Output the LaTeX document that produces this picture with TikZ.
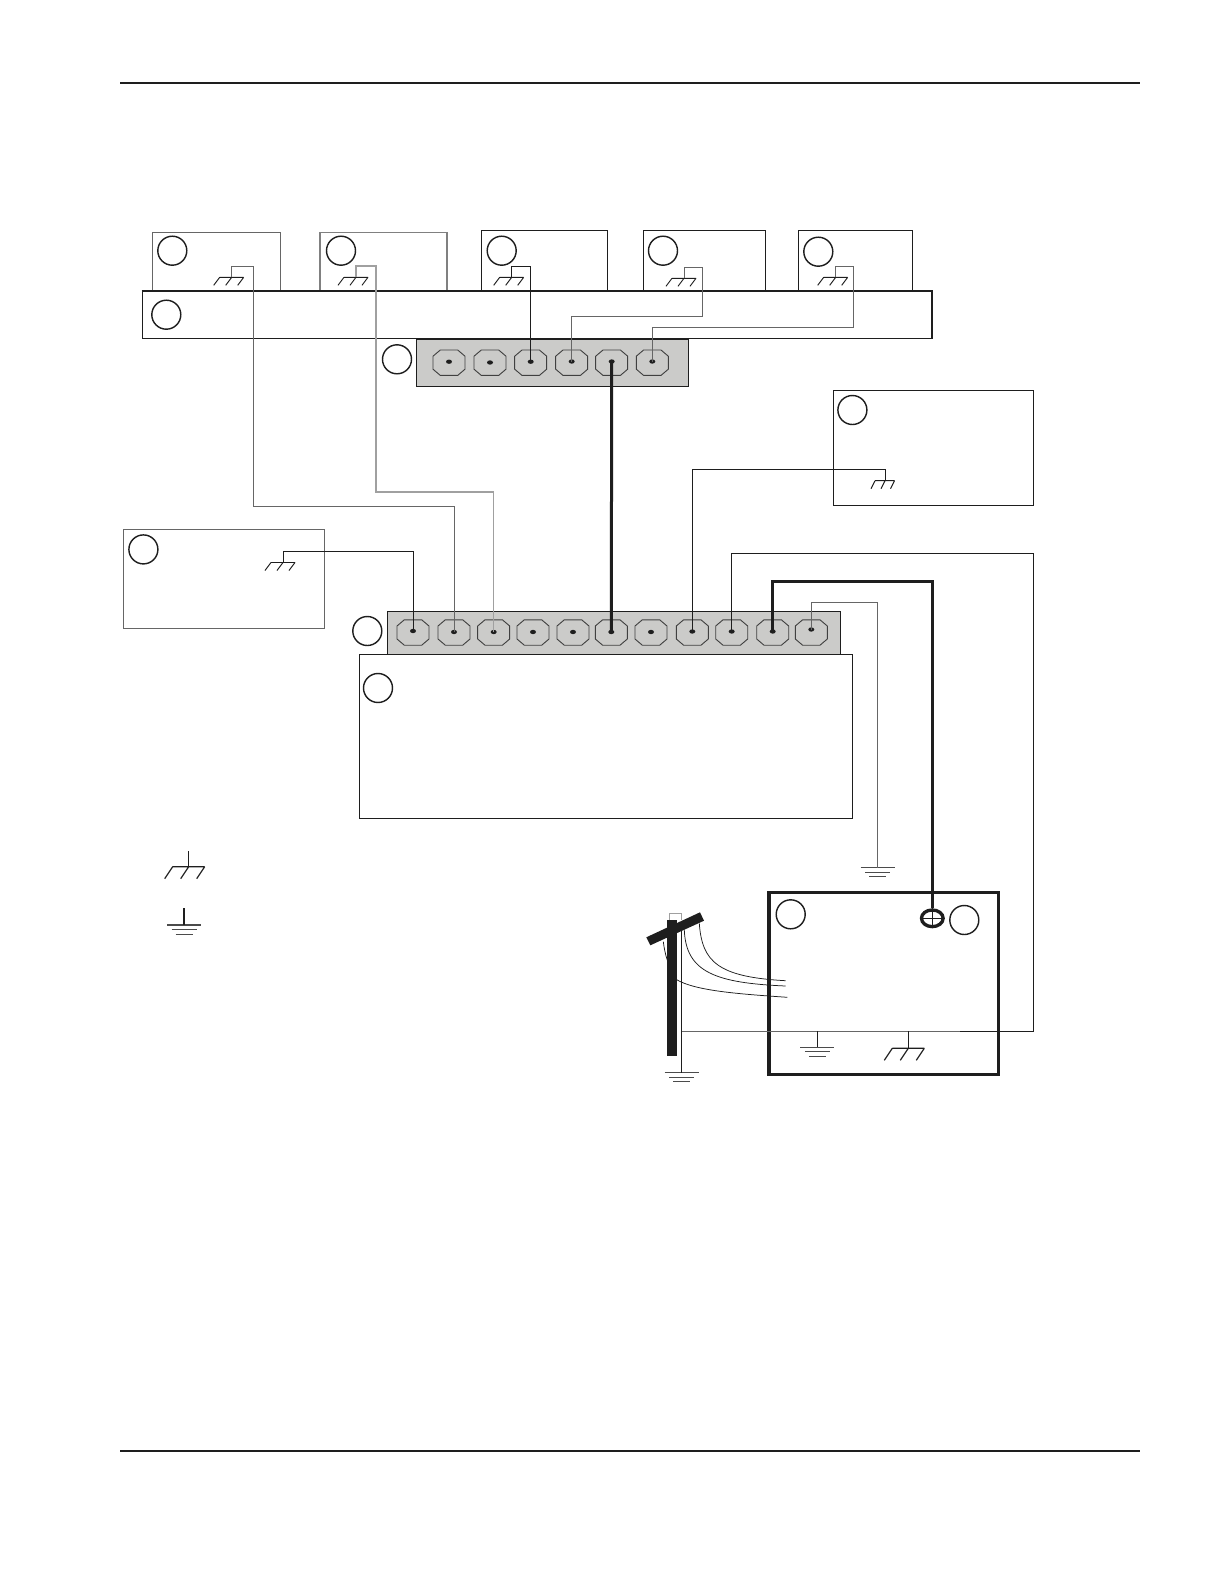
\documentclass[tikz,border=0pt]{standalone}
\usetikzlibrary{fit,shapes.geometric}
\definecolor{stripgray}{HTML}{CBCBC9}
\definecolor{ink}{HTML}{1E1E1E}
\definecolor{midgray}{HTML}{666666}
\definecolor{lightgray2}{HTML}{A0A0A0}
\tikzset{
 x=0.6pt,y=-0.6pt,
 box/.style={draw=ink,line width=0.6pt,inner sep=0pt,fill=none},
 grayedge/.style={draw=midgray,line width=0.6pt,inner sep=0pt},
 paleedge/.style={draw=black!50,line width=0.7pt,inner sep=0pt},
 strip/.style={draw=ink,line width=0.6pt,inner sep=0pt,fill=stripgray},
 heavybox/.style={draw=ink,line width=2.1pt,inner sep=0pt},
 callout/.style={circle,draw=ink,line width=0.85pt,minimum size=17.4pt,inner sep=0pt},
 dot/.style={ellipse,fill=ink,minimum width=3.6pt,minimum height=2.6pt,inner sep=0pt},
 wire/.style={draw=ink,line width=0.55pt},
 wiremid/.style={draw=midgray,line width=0.6pt},
 wirepale/.style={draw=lightgray2,line width=0.75pt},
 heavywire/.style={draw=ink,line width=1.8pt},
 rule/.style={draw=ink,line width=0.8pt},
 octa/.pic={\draw[draw=ink!85,line width=0.55pt] (-16,-6.5) -- (-8.7,-12.7) -- (8.7,-12.7) -- (16,-6.5) -- (16,6.5) -- (8.7,12.7) -- (-8.7,12.7) -- (-16,6.5) -- cycle;},
 chassis/.pic={\draw[wire] (-12,0) -- (12,0) (-12,0) -- ++(-6,8) (0,0) -- ++(-6,8) (12,0) -- ++(-6,8);},
 narrowchassis/.pic={\draw[wire] (-10,0) -- (9.5,0) (-10,0) -- ++(-4,8) (0,0) -- ++(-4,8) (9.5,0) -- ++(-4,8);},
 bigchassis/.pic={\draw[draw=ink,line width=0.7pt] (-16,0) -- (16,0) (-16,0) -- ++(-8,12) (0,0) -- ++(-8,12) (16,0) -- ++(-8,12);},
 earth/.pic={\draw[draw=ink!80,line width=0.7pt] (-17,0) -- (17,0) (-12.5,4.6) -- (12.5,4.6) (-8.5,9.2) -- (8.5,9.2);},
}
\begin{document}
\begin{tikzpicture}
\useasboundingbox (0,0) rectangle (1224,1584);
\fill[white] (0,0) rectangle (1224,1584);
% page rules
\coordinate (ruleTopL) at (120,83); \coordinate (ruleTopR) at (1140,83);
\coordinate (ruleBotL) at (120,1451); \coordinate (ruleBotR) at (1140,1451);
\draw[rule] (ruleTopL) -- (ruleTopR);
\draw[rule] (ruleBotL) -- (ruleBotR);
% top boxes
\node[grayedge,fit={(152.3,232.3)(280.3,291.5)}] (b1) {};
\node[paleedge,fit={(320,232.5)(447,291.5)}] (b2) {};
\node[box,fit={(481.7,230.3)(607.3,291.5)}] (b3) {};
\node[box,fit={(643.3,230.3)(765.7,291.5)}] (b4) {};
\node[box,fit={(798.7,230.3)(912.7,291.5)}] (b5) {};
\node[box,line width=0.7pt,fit={(142.3,291.8)(931.5,338.3)}] (panel) {};
\draw[draw=ink,line width=1pt] (panel.north west) -- (panel.north east) -- (panel.south east);
\node[strip,fit={(416.3,339.5)(688.7,386.3)}] (strip1) {};
\node[box,fit={(833,390)(1033,505.5)}] (bR) {};
\node[grayedge,fit={(123.2,529.7)(324.7,628.2)}] (bL) {};
\node[strip,fit={(387.3,611.7)(840.3,654)}] (strip2) {};
\node[box,fit={(359.3,654)(852.3,818)}] (main) {};
\node[heavybox,fit={(768.8,892.6)(998.6,1074.6)}] (svc) {};
% callouts
\node[callout] (c1) at (172.3,250.7) {};
\node[callout] (c2) at (341,250.7) {};
\node[callout] (c3) at (501.7,250.7) {};
\node[callout] (c4) at (663,250.7) {};
\node[callout] (c5) at (818.3,251.7) {};
\node[callout] (c6) at (166.3,314.7) {};
\node[callout] (c7) at (397,359.3) {};
\node[callout] (c8) at (852.4,410) {};
\node[callout] (c9) at (143.4,549.4) {};
\node[callout] (c10) at (367.3,631) {};
\node[callout] (c11) at (378,688) {};
\node[callout] (c12) at (790.7,914.3) {};
\node[callout] (c13) at (964.3,920) {};
% octagons and terminals, upper strip
\foreach \n/\px/\py in {a/449/361.7,b/490/362.5,c/530.7/361.7,d/571.7/361.5,e/611.7/361.5,f/652.3/361.5}{
 \path (\px,362.7) pic {octa};
 \node[dot] (s\n) at (\px,\py) {};
}
% octagons and terminals, lower strip
\foreach \n/\px/\py in {1/413/631,2/454/632,3/493.7/632,4/533/632,5/573/632,6/611.3/632,7/651/632,8/692.3/631.5,9/731.7/631.5,10/772.7/631.5,11/811.3/629.5}{
 \path (\px,632.5) pic {octa};
 \node[dot] (t\n) at (\px,\py) {};
}
% chassis symbols
\coordinate (g1) at (231.7,277.3); \path (g1) pic {chassis};
\coordinate (g2) at (356,277.3); \path (g2) pic {chassis};
\coordinate (g3) at (511.7,277.3); \path (g3) pic {chassis};
\coordinate (g4) at (684,278.3); \path (g4) pic {chassis};
\coordinate (g5) at (835.7,277.3); \path (g5) pic {chassis};
\coordinate (gR) at (885,480.7); \path (gR) pic {narrowchassis};
\coordinate (gL) at (283,562.5); \path (gL) pic {chassis};
\coordinate (gS) at (908.3,1048.3); \path (gS) pic {bigchassis};
\coordinate (legC) at (188.7,866.7); \coordinate (legCtop) at (188.7,851);
\path (legC) pic {bigchassis};
% earth symbols
\coordinate (eT) at (877.7,867.5); \path (eT) pic {earth};
\coordinate (eS) at (817.3,1047.3); \path (eS) pic {earth};
\coordinate (eP) at (681.7,1072.7); \path (eP) pic {earth};
\coordinate (legE) at (184,925); \coordinate (legEtop) at (184,907.7);
\path (legE) pic {earth};
\draw[draw=ink,line width=0.7pt] (legC) -- (legCtop);
\draw[draw=ink,line width=0.7pt] (legE) -- (legEtop);
% signal wires
\draw[wiremid] (g1) -- (231.7,266.3) -- (253.7,266.3) -- (253.7,506) -- (454,506) -- (t2.center);
\draw[wirepale] (g2) -- (356,266) -- (376,266) -- (376,492) -- (493.7,492) -- (t3.center);
\draw[wire] (g3) -- (511.7,266.3) -- (530.7,266.3) -- (sc.center);
\draw[wiremid] (g4) -- (684,267.7) -- (702.7,267.7) -- (702.7,316.3) -- (571.7,316.3) -- (sd.center);
\draw[wiremid] (g5) -- (835.7,266.3) -- (853.3,266.3) -- (853.3,327) -- (652.3,327) -- (sf.center);
\draw[wire] (gL) -- (283,551) -- (413,551) -- (t1.center);
\draw[wire] (gR) -- (885,469.6) -- (692.3,469.6) -- (t8.center);
\draw[wiremid] (t11.center) -- (811.3,602.3) -- (877.7,602.3) -- (eT);
\draw[heavywire] (se.center) -- (t6.center);
% service wires
\coordinate (pg) at (681.7,1031);
\coordinate (poleTop) at (681.7,925);
\draw[wire] (t9.center) -- (731.7,553) -- (1033.6,553) -- (1033.6,1031) -- (960,1031);
\draw[wiremid] (960,1031) -- (pg);
\draw[wire] (817.3,1031) -- (eS);
\draw[wire] (908.3,1031) -- (gS);
\draw[wire] (poleTop) -- (eP);
% bus bar
\node[ellipse,draw=ink,line width=2pt,minimum width=13pt,minimum height=10pt,inner sep=0pt] (bus) at (932.3,918.3) {};
\draw[draw=ink,line width=0.8pt] (bus.west) -- (bus.east) (bus.north) -- (bus.south);
\draw[heavywire,line join=miter] (t10.center) -- (772.7,581.7) -- (932.3,581.7) -- (bus.north);
% pole
\draw[draw=lightgray2,line width=0.55pt] (669,920) -- (669,913.3) -- (681.7,913.3) -- (681.7,920);
\draw[draw=ink,line width=0.45pt] (699.3,923.3) .. controls (702,962) and (718,977) .. (785.7,980.7);
\draw[draw=ink,line width=0.45pt] (684.3,930) .. controls (686,972) and (715,983) .. (785.7,986);
\draw[draw=ink,line width=0.45pt] (663.3,941.7) .. controls (665,955) and (668,965) .. (676,979.3) .. controls (695,991) and (740,994) .. (787.3,997.3);
\fill[ink] (666.7,920) rectangle (676.7,1056);
\fill[ink] (646.3,937.3) -- (650.3,945.3) -- (704,920.7) -- (700,912.3) -- cycle;
\end{tikzpicture}
\end{document}
